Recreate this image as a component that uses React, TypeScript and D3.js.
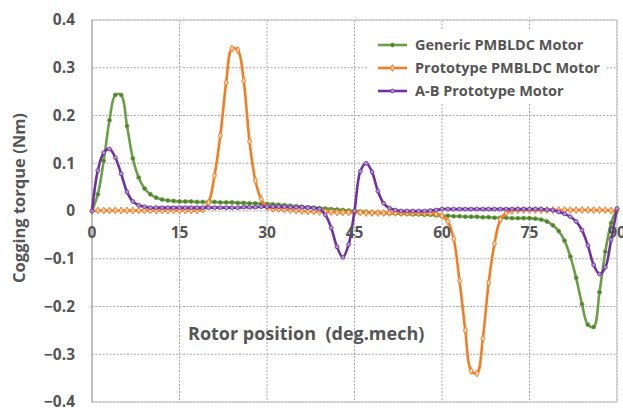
import React from "react";
import * as d3 from "d3";

// rotor position, degrees (one sample per degree)
const rotorPos = d3.range(0, 91);

const genericMotor = [
  0, 0.035, 0.105, 0.19, 0.243, 0.243, 0.178, 0.11, 0.07, 0.047,
  0.035, 0.028, 0.024, 0.022, 0.021, 0.02, 0.02, 0.02, 0.019, 0.019,
  0.019, 0.019, 0.018, 0.018, 0.018, 0.017, 0.017, 0.016, 0.016, 0.015,
  0.015, 0.014, 0.013, 0.012, 0.011, 0.01, 0.009, 0.008, 0.007, 0.006,
  0.005, 0.004, 0.003, 0.002, 0.001, 0, -0.001, -0.002, -0.003, -0.004,
  -0.004, -0.005, -0.005, -0.006, -0.006, -0.007, -0.007, -0.008, -0.008, -0.009,
  -0.01, -0.01, -0.011, -0.011, -0.012, -0.012, -0.012, -0.013, -0.013, -0.014,
  -0.014, -0.014, -0.015, -0.015, -0.015, -0.015, -0.016, -0.018, -0.022, -0.03,
  -0.042, -0.062, -0.095, -0.14, -0.195, -0.238, -0.243, -0.17, -0.085, -0.025,
  0.005,
];

const prototypeMotor = [
  0, 0.001, 0.001, 0.001, 0.001, 0.001, 0.001, 0.001, 0.001, 0.001,
  0.001, 0.001, 0.001, 0.001, 0.001, 0.001, 0.001, 0.001, 0.001, 0.003,
  0.018, 0.074, 0.158, 0.269, 0.34, 0.337, 0.273, 0.146, 0.064, 0.025,
  0.008, 0.005, 0.004, 0.003, 0.002, 0.001, 0, -0.001, -0.001, -0.002,
  -0.002, -0.002, -0.003, -0.003, -0.003, -0.003, -0.003, -0.004, -0.004, -0.004,
  -0.004, -0.004, -0.004, -0.004, -0.004, -0.004, -0.004, -0.004, -0.004, -0.006,
  -0.01, -0.022, -0.058, -0.146, -0.25, -0.335, -0.34, -0.267, -0.15, -0.068,
  -0.018, -0.004, 0, 0.002, 0.002, 0.002, 0.002, 0.002, 0.002, 0.002,
  0.002, 0.002, 0.002, 0.002, 0.002, 0.002, 0.002, 0.002, 0.002, 0.001,
  0,
];

const abPrototypeMotor = [
  0, 0.085, 0.122, 0.13, 0.112, 0.078, 0.04, 0.02, 0.012, 0.009,
  0.007, 0.007, 0.007, 0.007, 0.007, 0.007, 0.007, 0.007, 0.007, 0.007,
  0.007, 0.007, 0.007, 0.007, 0.007, 0.007, 0.008, 0.008, 0.008, 0.009,
  0.009, 0.009, 0.009, 0.009, 0.008, 0.008, 0.008, 0.007, 0.006, 0.004,
  -0.008, -0.035, -0.075, -0.097, -0.07, 0.0, 0.083, 0.1, 0.082, 0.042,
  0.016, 0.006, 0.002, 0, 0, 0, 0, 0, 0.001, 0.002,
  0.004, 0.004, 0.004, 0.004, 0.004, 0.004, 0.004, 0.004, 0.004, 0.004,
  0.004, 0.004, 0.004, 0.004, 0.004, 0.004, 0.004, 0.004, 0.003, 0.002,
  -0.002, -0.006, -0.012, -0.022, -0.04, -0.072, -0.113, -0.132, -0.118, -0.06,
  0.005,
];

const seriesNames = ["Generic PMBLDC Motor", "Prototype PMBLDC Motor", "A-B Prototype Motor"];
const seriesColors = ["#6a9f45", "#f47d22", "#7030a0"];
const xTicks = [0, 15, 30, 45, 60, 75, 90];
const yTicks = [0.4, 0.3, 0.2, 0.1, 0, -0.1, -0.2, -0.3, -0.4];

const W = 623;
const H = 408;
const font = "'Open Sans', 'Noto Sans', sans-serif";
const textGray = "#555";

const App = () => {
  const x = d3.scaleLinear().domain([0, 90]).range([92, 617]);
  const y = d3.scaleLinear().domain([-0.4, 0.4]).range([402, 20]);

  const allSeries = [genericMotor, prototypeMotor, abPrototypeMotor];
  const line = d3.line<number>()
    .x((d, i) => x(rotorPos[i]))
    .y(d => y(d))
    .curve(d3.curveCatmullRom.alpha(0.5));

  const diamond = d3.symbol().type(d3.symbolDiamond).size(14)();
  const circle = d3.symbol().type(d3.symbolCircle).size(12)();

  const marker = (si: number, cx: number, cy: number, key: number) => {
    const c = seriesColors[si];
    if (si === 1)
      return <path key={key} d={diamond!} transform={`translate(${cx},${cy})`} fill="#fcd2b0" stroke={c} strokeWidth={1} />;
    if (si === 2)
      return <path key={key} d={circle!} transform={`translate(${cx},${cy})`} fill="#b596d0" stroke={c} strokeWidth={0.8} />;
    return <path key={key} d={circle!} transform={`translate(${cx},${cy})`} fill="#4f7d31" stroke={c} strokeWidth={0.8} />;
  };

  return (
    <svg width={W} height={H} style={{ position: "absolute", left: 0, top: 0, background: "#fff" }}>
      {/* grid */}
      {yTicks.map(t => (
        <line key={"gy" + t} x1={x(0)} x2={x(90)} y1={y(t)} y2={y(t)}
          stroke="#a6a6a6" strokeWidth={1} strokeDasharray="2,1.5" />
      ))}
      {xTicks.map(t => (
        <line key={"gx" + t} x1={x(t)} x2={x(t)} y1={y(0.4)} y2={y(-0.4)}
          stroke="#a6a6a6" strokeWidth={1} strokeDasharray="2,1.5" />
      ))}
      <rect x={x(0)} y={y(0.4)} width={x(90) - x(0)} height={y(-0.4) - y(0.4)}
        fill="none" stroke="#c8c8c8" strokeWidth={1.2} />
      <line x1={x(0)} x2={x(0)} y1={y(0.4)} y2={y(-0.4)} stroke="#b0b0b0" strokeWidth={1.2} />

      {/* y tick labels */}
      {yTicks.map(t => (
        <text key={"ly" + t} x={75} y={y(t)} dy="0.35em" textAnchor="end"
          fontFamily={font} fontWeight={700} fontSize={15.5} fill={textGray}>
          {t === 0 ? "0" : d3.format(".1f")(t)}
        </text>
      ))}

      {/* legend box */}
      <rect x={368} y={29} width={238} height={74} fill="#fff" />

      {/* series */}
      {allSeries.map((s, si) => (
        <g key={"s" + si}>
          <path d={line(s)!} fill="none" stroke={seriesColors[si]} strokeWidth={2.6} strokeLinejoin="round" />
          {s.map((v, i) => marker(si, x(rotorPos[i]), y(v), i))}
        </g>
      ))}

      {/* x tick labels sit just below the zero line */}
      {xTicks.map(t => (
        <text key={"lx" + t} x={x(t)} y={y(0) + 27} textAnchor="middle"
          fontFamily={font} fontWeight={700} fontSize={15.5} fill={textGray}>
          {t}
        </text>
      ))}

      {/* legend */}
      {seriesNames.map((n, i) => {
        const ly = 45 + i * 23;
        return (
          <g key={"lg" + i}>
            <line x1={378} x2={407} y1={ly} y2={ly} stroke={seriesColors[i]} strokeWidth={2.6} />
            {marker(i, 392.5, ly, 0)}
            <text x={415} y={ly} dy="0.35em" fontFamily={font} fontWeight={700} fontSize={14.5}
              fill={textGray}>{n}</text>
          </g>
        );
      })}

      {/* axis titles */}
      <text x={188} y={340} fontFamily={font} fontWeight={700} fontSize={18} fill={textGray}>
        {"Rotor position\u00a0 (deg.mech)"}
      </text>
      <text transform={`translate(25,198) rotate(-90)`} textAnchor="middle" fontFamily={font}
        fontWeight={700} fontSize={16.5} fill={textGray}>
        Cogging torque (Nm)
      </text>
    </svg>
  );
};

export default App;
